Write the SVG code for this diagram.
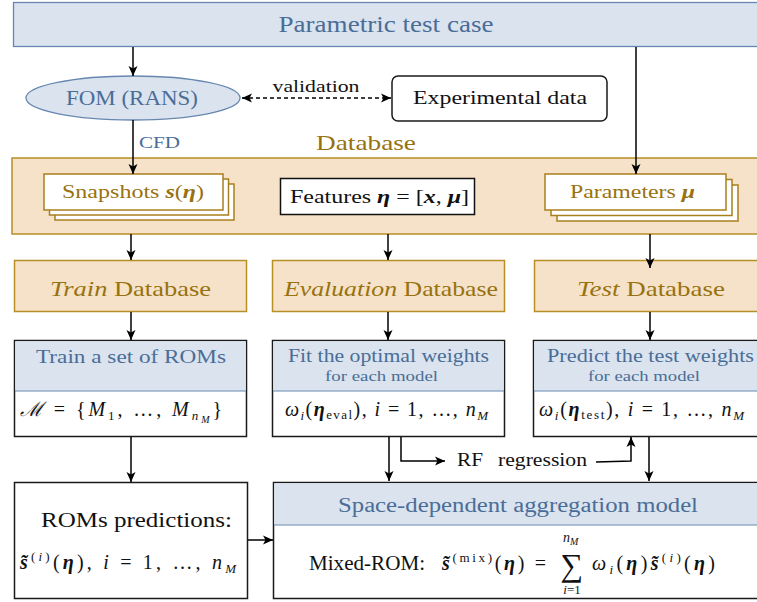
<svg xmlns="http://www.w3.org/2000/svg" width="757" height="602" viewBox="0 0 757 602" font-family="'Liberation Serif', 'DejaVu Serif', serif">
<defs>
<style>
svg text, svg tspan{font-family:'Liberation Serif','DejaVu Serif',serif}
.hb{fill:#dae3ee;stroke:#6787b0;stroke-width:1.3}
.db{fill:#f5e2c9;stroke:#b88f25;stroke-width:1.5}
.dbw{fill:#fff;stroke:#a87f1c;stroke-width:1.5}
.wb{fill:#fff;stroke:#1a1a1a;stroke-width:1.5}
.hdr{fill:#dae3ee;stroke:none}
.dv{stroke:#6787b0;stroke-width:1.2}
.tb{fill:#4a6d97}
.tbr{fill:#98720f}
.tk{fill:#111}
.c{fill:none;stroke:#000;stroke-width:1.5}
.i{font-style:italic}
.bi{font-style:italic;font-weight:bold}
</style>
<marker id="ah" viewBox="0 0 10 10" refX="10" refY="5" markerWidth="10" markerHeight="10" markerUnits="userSpaceOnUse" orient="auto-start-reverse"><path d="M0,0.5 L10,5 L0,9.5 L2.5,5 Z" fill="#000"/></marker>
</defs>
<rect width="757" height="602" fill="#fff"/>

<g id="param-test-case">
<rect class="hb" x="13.5" y="2.5" width="760" height="44"/>
<text class="tb" x="386" y="32" text-anchor="middle" font-size="23" textLength="215" lengthAdjust="spacingAndGlyphs">Parametric test case</text>
</g>

<g id="fom">
<ellipse class="hb" cx="133" cy="98" rx="107" ry="22"/>
<text class="tb" x="132" y="105" text-anchor="middle" font-size="20" textLength="132" lengthAdjust="spacingAndGlyphs">FOM (RANS)</text>
</g>

<g id="experimental">
<rect class="wb" x="392" y="76" width="215" height="45" rx="6"/>
<text class="tk" x="500" y="104" text-anchor="middle" font-size="19" textLength="174" lengthAdjust="spacingAndGlyphs">Experimental data</text>
</g>

<g id="database">
<rect class="db" x="12" y="158" width="760" height="76"/>
<text class="tbr" x="366" y="150" text-anchor="middle" font-size="21" textLength="100" lengthAdjust="spacingAndGlyphs">Database</text>
</g>

<g id="snapshots">
<rect class="dbw" x="55" y="184" width="179" height="36"/>
<rect class="dbw" x="49.5" y="179" width="179" height="36"/>
<rect class="dbw" x="44" y="174" width="179" height="36"/>
<text class="tbr" x="62" y="198" font-size="19" textLength="142" lengthAdjust="spacingAndGlyphs">Snapshots <tspan class="bi">s</tspan>(<tspan class="bi">η</tspan>)</text>
</g>

<g id="features">
<rect class="wb" x="280.5" y="178.5" width="194" height="36" style="stroke:#111"/>
<text class="tk" x="290" y="203" font-size="19" textLength="179" lengthAdjust="spacingAndGlyphs">Features <tspan class="bi">η</tspan> = [<tspan class="bi">x</tspan>, <tspan class="bi">μ</tspan>]</text>
</g>

<g id="parameters">
<rect class="dbw" x="557" y="185" width="181" height="36"/>
<rect class="dbw" x="551" y="179.5" width="181" height="36"/>
<rect class="dbw" x="545" y="174" width="181" height="36"/>
<text class="tbr" x="570" y="198" font-size="19" textLength="125" lengthAdjust="spacingAndGlyphs">Parameters <tspan class="bi">μ</tspan></text>
</g>

<g id="train-db">
<rect class="db" x="14.5" y="260.5" width="232" height="51"/>
<text class="tbr" x="50" y="296" font-size="21" textLength="161" lengthAdjust="spacingAndGlyphs"><tspan class="i">Train</tspan> Database</text>
</g>

<g id="eval-db">
<rect class="db" x="272.5" y="260.5" width="232" height="51"/>
<text class="tbr" x="284" y="296" font-size="21" textLength="214" lengthAdjust="spacingAndGlyphs"><tspan class="i">Evaluation</tspan> Database</text>
</g>

<g id="test-db">
<rect class="db" x="534.5" y="260.5" width="240" height="51"/>
<text class="tbr" x="577" y="296" font-size="21" textLength="148" lengthAdjust="spacingAndGlyphs"><tspan class="i">Test</tspan> Database</text>
</g>

<g id="train-roms">
<rect class="wb" x="14.5" y="340.5" width="232" height="96"/>
<rect class="hdr" x="15.25" y="341.25" width="230.5" height="49.5"/>
<line class="dv" x1="15" y1="391" x2="246" y2="391"/>
<text class="tb" x="36" y="363" font-size="19" textLength="190" lengthAdjust="spacingAndGlyphs">Train a set of ROMs</text>
<text class="tk" x="20" y="416" font-size="20" textLength="202" lengthAdjust="spacing"><tspan class="i">ℳ</tspan> = {<tspan class="i">M</tspan><tspan font-size="13" dy="4">1</tspan><tspan dy="-4">, …, </tspan><tspan class="i">M</tspan><tspan class="i" font-size="13" dy="4">n</tspan><tspan class="i" font-size="10" dy="3">M</tspan><tspan dy="-7">}</tspan></text>
</g>

<g id="fit-weights">
<rect class="wb" x="272.5" y="340.5" width="232" height="96"/>
<rect class="hdr" x="273.25" y="341.25" width="230.5" height="49.5"/>
<line class="dv" x1="273" y1="391" x2="504" y2="391"/>
<text class="tb" x="288" y="362" font-size="18" textLength="201" lengthAdjust="spacingAndGlyphs">Fit the optimal weights</text>
<text class="tb" x="325" y="381" font-size="15" textLength="113" lengthAdjust="spacingAndGlyphs">for each model</text>
<text class="tk" x="285" y="416" font-size="20" textLength="203" lengthAdjust="spacing"><tspan class="i">ω</tspan><tspan class="i" font-size="13" dy="4">i</tspan><tspan dy="-4">(</tspan><tspan class="bi">η</tspan><tspan font-size="13" dy="3">eval</tspan><tspan dy="-3">), </tspan><tspan class="i">i</tspan> = 1, …, <tspan class="i">n</tspan><tspan class="i" font-size="13" dy="4">M</tspan></text>
</g>

<g id="predict-weights">
<rect class="wb" x="533.5" y="340.5" width="240" height="96"/>
<rect class="hdr" x="534.25" y="341.25" width="238.5" height="49.5"/>
<line class="dv" x1="534" y1="391" x2="773" y2="391"/>
<text class="tb" x="547" y="362" font-size="18" textLength="207" lengthAdjust="spacingAndGlyphs">Predict the test weights</text>
<text class="tb" x="588" y="381" font-size="15" textLength="112" lengthAdjust="spacingAndGlyphs">for each model</text>
<text class="tk" x="539" y="416" font-size="20" textLength="205" lengthAdjust="spacing"><tspan class="i">ω</tspan><tspan class="i" font-size="13" dy="4">i</tspan><tspan dy="-4">(</tspan><tspan class="bi">η</tspan><tspan font-size="13" dy="3">test</tspan><tspan dy="-3">), </tspan><tspan class="i">i</tspan> = 1, …, <tspan class="i">n</tspan><tspan class="i" font-size="13" dy="4">M</tspan></text>
</g>

<g id="rf-regression">
<text class="tk" x="457" y="466" font-size="19" textLength="26" lengthAdjust="spacingAndGlyphs">RF</text>
<text class="tk" x="498" y="466" font-size="19" textLength="89" lengthAdjust="spacingAndGlyphs">regression</text>
</g>

<g id="rom-predictions">
<rect class="wb" x="14.5" y="482.5" width="233" height="116"/>
<text class="tk" x="41" y="527" font-size="20" textLength="191" lengthAdjust="spacingAndGlyphs">ROMs predictions:</text>
<text class="tk" x="20" y="569" font-size="20" textLength="216" lengthAdjust="spacing"><tspan class="bi">s̃</tspan><tspan font-size="13" dy="-8">(</tspan><tspan class="i" font-size="13">i</tspan><tspan font-size="13">)</tspan><tspan dy="8">(</tspan><tspan class="bi">η</tspan>), <tspan class="i">i</tspan> = 1, …, <tspan class="i">n</tspan><tspan class="i" font-size="13" dy="4">M</tspan></text>
</g>

<g id="aggregation">
<rect class="wb" x="273.5" y="482.5" width="500" height="116"/>
<rect class="hdr" x="274.25" y="483.25" width="498.5" height="41.5"/>
<line class="dv" x1="274" y1="525" x2="773" y2="525"/>
<text class="tb" x="338" y="512" font-size="20" textLength="360" lengthAdjust="spacingAndGlyphs">Space-dependent aggregation model</text>
<text class="tk" x="309" y="570" font-size="20" textLength="116" lengthAdjust="spacingAndGlyphs">Mixed-ROM:</text>
<text class="tk" x="442" y="570" font-size="20" textLength="104" lengthAdjust="spacing"><tspan class="bi">s̃</tspan><tspan font-size="13" dy="-8">(mix)</tspan><tspan dy="8">(</tspan><tspan class="bi">η</tspan>) =</text>
<text class="tk" x="572" y="576" font-size="32" text-anchor="middle">∑</text>
<text class="tk" x="563" y="542" font-size="14"><tspan class="i">n</tspan><tspan class="i" font-size="10" dy="3">M</tspan></text>
<text class="tk" x="572" y="594" font-size="13" text-anchor="middle"><tspan class="i">i</tspan>=1</text>
<text class="tk" x="592" y="570" font-size="20" textLength="123" lengthAdjust="spacing"><tspan class="i">ω</tspan><tspan class="i" font-size="13" dy="4">i</tspan><tspan dy="-4">(</tspan><tspan class="bi">η</tspan>)<tspan class="bi">s̃</tspan><tspan font-size="13" dy="-8">(</tspan><tspan class="i" font-size="13">i</tspan><tspan font-size="13">)</tspan><tspan dy="8">(</tspan><tspan class="bi">η</tspan>)</text>
</g>

<g id="connectors">
<line class="c" x1="133" y1="47" x2="133" y2="76" marker-end="url(#ah)"/>
<line class="c" x1="242" y1="98" x2="391" y2="98" stroke-dasharray="4 3" marker-start="url(#ah)" marker-end="url(#ah)"/>
<text class="tk" x="316" y="92" text-anchor="middle" font-size="17" textLength="87" lengthAdjust="spacingAndGlyphs">validation</text>
<line class="c" x1="133" y1="120" x2="133" y2="174" marker-end="url(#ah)"/>
<text class="tb" x="139" y="148" font-size="17" textLength="41" lengthAdjust="spacingAndGlyphs">CFD</text>
<line class="c" x1="636" y1="47" x2="636" y2="174" marker-end="url(#ah)"/>
<line class="c" x1="131" y1="234" x2="131" y2="260" marker-end="url(#ah)"/>
<line class="c" x1="388" y1="234" x2="388" y2="260" marker-end="url(#ah)"/>
<line class="c" x1="650" y1="234" x2="650" y2="268" marker-end="url(#ah)"/>
<line class="c" x1="131" y1="312" x2="131" y2="340" marker-end="url(#ah)"/>
<line class="c" x1="388" y1="312" x2="388" y2="340" marker-end="url(#ah)"/>
<line class="c" x1="650" y1="312" x2="650" y2="340" marker-end="url(#ah)"/>
<line class="c" x1="131" y1="437" x2="131" y2="482" marker-end="url(#ah)"/>
<line class="c" x1="389" y1="437" x2="389" y2="481" marker-end="url(#ah)"/>
<line class="c" x1="649" y1="437" x2="649" y2="481" marker-end="url(#ah)"/>
<polyline class="c" points="401,437 401,461 445,461" marker-end="url(#ah)"/>
<polyline class="c" points="596,462 631,461 631,437" marker-end="url(#ah)"/>
<line class="c" x1="248" y1="540" x2="273" y2="540" marker-end="url(#ah)"/>
</g>
</svg>
